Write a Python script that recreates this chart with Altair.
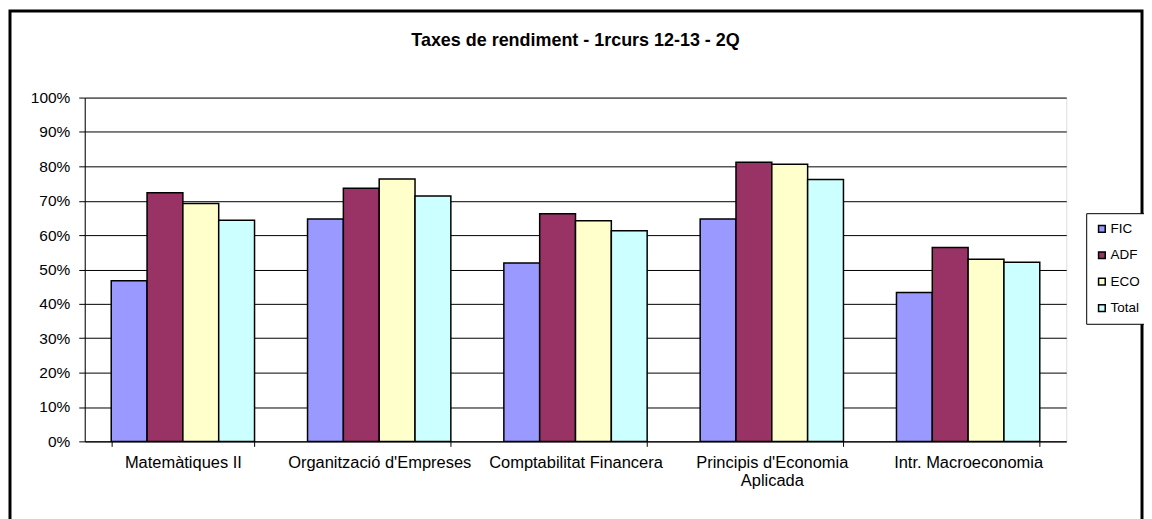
import altair as alt
import pandas as pd

categories = ["Matemàtiques II", "Organització d'Empreses", "Comptabilitat Financera",
              "Principis d'Economia Aplicada", "Intr. Macroeconomia"]
series = ["FIC", "ADF", "ECO", "Total"]
fic = [0.467, 0.647, 0.519, 0.647, 0.433]
adf = [0.723, 0.736, 0.662, 0.812, 0.564]
eco = [0.692, 0.763, 0.642, 0.806, 0.530]
total = [0.643, 0.714, 0.613, 0.762, 0.521]
colors = ["#9999FF", "#993366", "#FFFFCC", "#CCFFFF"]

rows = []
for s, vals in zip(series, [fic, adf, eco, total]):
    for c, v in zip(categories, vals):
        rows.append({"cat": c, "serie": s, "val": v})
df = pd.DataFrame(rows)

W, H = 985, 345
FONT = "Liberation Sans"

label_expr = ('datum.value == "Principis d\'Economia Aplicada" ? '
              '["Principis d\'Economia", "Aplicada"] : datum.value')

bars = alt.Chart(df).mark_bar(stroke="black", strokeWidth=1.5).encode(
    x=alt.X("cat:N", sort=categories, title=None,
            scale=alt.Scale(paddingInner=0.27, paddingOuter=0.135),
            axis=alt.Axis(labelAngle=0, labelFontSize=16.5, labelFont=FONT, labelColor="black",
                          tickBand="extent", tickColor="black", tickSize=5,
                          domainColor="black", labelPadding=8, labelExpr=label_expr,
                          labelLineHeight=18, labelLimit=300, labelOverlap=False)),
    xOffset=alt.XOffset("serie:N", sort=series, scale=alt.Scale(paddingInner=0, paddingOuter=0)),
    y=alt.Y("val:Q", title=None,
            scale=alt.Scale(domain=[0, 1]),
            axis=alt.Axis(format=".0%", values=[i / 10 for i in range(11)],
                          labelFontSize=15.5, labelFont=FONT, labelColor="black",
                          gridColor="black", gridWidth=1, tickColor="black", tickSize=6,
                          domainColor="black", labelPadding=9)),
    color=alt.Color("serie:N", sort=series,
                    scale=alt.Scale(domain=series, range=colors),
                    legend=alt.Legend(title=None, orient="none", legendX=1005, legendY=116,
                                      strokeColor="black", fillColor="white", padding=9,
                                      symbolType="square", symbolSize=45,
                                      symbolStrokeColor="black", symbolStrokeWidth=1.5,
                                      labelFontSize=13.5, labelFont=FONT, labelColor="black",
                                      rowPadding=11.5, labelOffset=2)),
)

frame = alt.Chart(pd.DataFrame({"a": [0]})).mark_rect(
    fill=None, stroke="black", strokeWidth=3, clip=False
).encode(x=alt.value(-75), x2=alt.value(1061), y=alt.value(-87), y2=alt.value(H + 120))

chart = alt.layer(bars, frame).properties(
    width=W, height=H,
    title=alt.TitleParams("Taxes de rendiment - 1rcurs 12-13 - 2Q", font=FONT,
                          fontSize=18, fontWeight="bold", color="black", offset=-41),
    autosize=alt.AutoSizeParams(type="none"),
    padding={"left": 77, "top": 89, "right": 78, "bottom": 77},
).configure_view(fill="#C0C0C0", stroke="#808080").configure(background="white")

chart.save("out.html", embed_options={"renderer": "svg", "actions": False})
